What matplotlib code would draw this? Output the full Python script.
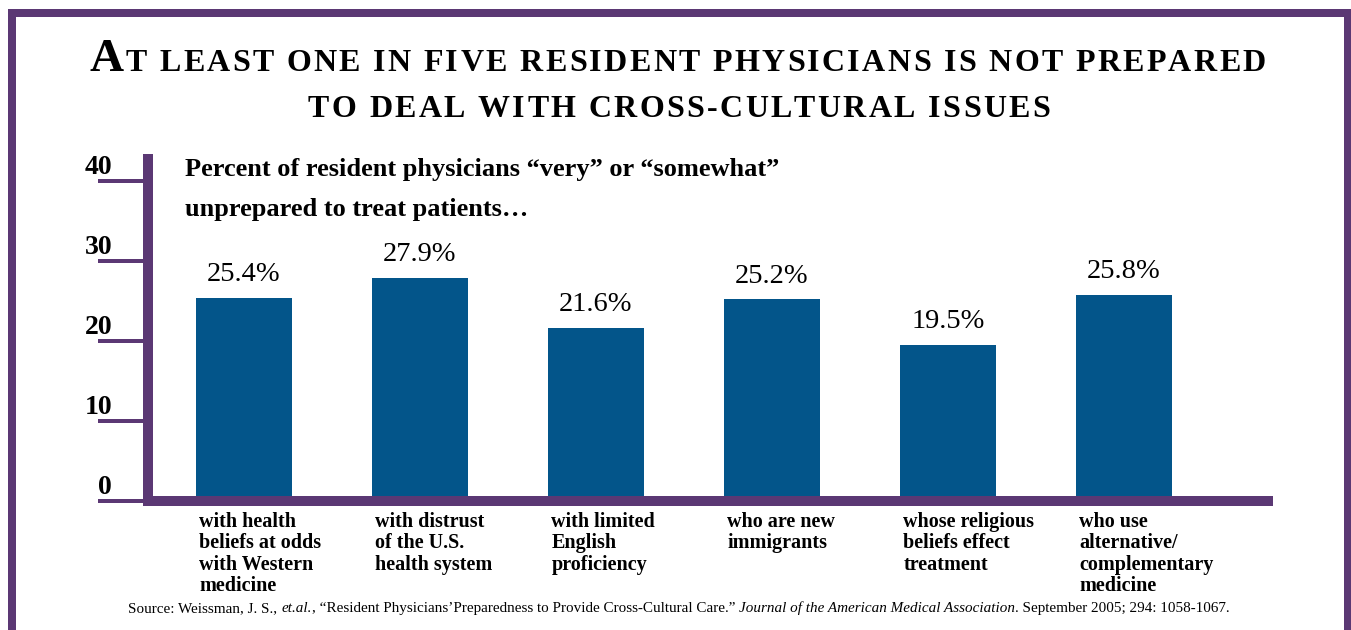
import matplotlib
matplotlib.use('Agg')
import matplotlib.pyplot as plt
from matplotlib.lines import Line2D

# ---------------- data ----------------
categories = [
    "with health\nbeliefs at odds\nwith Western\nmedicine",
    "with distrust\nof the U.S.\nhealth system",
    "with limited\nEnglish\nproficiency",
    "who are new\nimmigrants",
    "whose religious\nbeliefs effect\ntreatment",
    "who use\nalternative/\ncomplementary\nmedicine",
]
values = [25.4, 27.9, 21.6, 25.2, 19.5, 25.8]
value_labels = ["25.4%", "27.9%", "21.6%", "25.2%", "19.5%", "25.8%"]
yticks = [0, 10, 20, 30, 40]
ytick_labels = ["0", "10", "20", "30", "40"]

title_big = "A"
title_rest1 = "T LEAST ONE IN FIVE RESIDENT PHYSICIANS IS NOT PREPARED"
title_line2 = "TO DEAL WITH CROSS-CULTURAL ISSUES"
subtitle_lines = ["Percent of resident physicians \u201cvery\u201d or \u201csomewhat\u201d",
                  "unprepared to treat patients\u2026"]
source_pieces = [
    ("Source: Weissman, J. S.,", "normal", True),
    ("et.al.", "italic", False),
    (", \u201cResident Physicians\u2019Preparedness to Provide Cross-Cultural Care.\u201d", "normal", True),
    ("Journal of the American Medical Association", "italic", False),
    (". September 2005; 294: 1058-1067.", "normal", False),
]

# ---------------- style ----------------
PURPLE = "#5B3874"
BAR = "#03558A"
SERIF = ["Liberation Serif", "DejaVu Serif"]
plt.rcParams['font.family'] = SERIF

W, H = 1351, 630
fig = plt.figure(figsize=(W / 100, H / 100), dpi=100)

# axes: x from 148px to 1273px, y=0 at 501px, y=40 at 181px
ax = fig.add_axes([148 / W, (H - 501) / H, (1273 - 148) / W, 320 / H])
ax.set_xlim(-0.545, 5.847)
ax.set_ylim(0, 40)
ax.axis('off')

xpos = list(range(len(values)))
bw = 96 / 176
ax.bar(xpos, values, width=bw, color=BAR, zorder=2)

# value labels
for x, v, lab in zip(xpos, values, value_labels):
    ax.text(x, v + 2.1, lab, ha='center', va='baseline', fontsize=20.5,
            color='black')

# category labels
for x, lab in zip(xpos, categories):
    ax.text(x - bw / 2 + 0.02, -1.35, lab, ha='left', va='top', fontsize=14.5,
            fontweight='bold', linespacing=1.1, color='black')

# axes lines (custom purple)
yx = ax.get_yaxis_transform()
pt = 72 / 100
ax.add_line(Line2D([0, 0], [-0.62, 43.4], transform=yx, color=PURPLE,
                   lw=10 * pt, solid_capstyle='butt', clip_on=False, zorder=3))
ax.add_line(Line2D([-0.0044, 1.0], [0, 0], transform=yx, color=PURPLE,
                   lw=10 * pt, solid_capstyle='butt', clip_on=False, zorder=3))
for t, lab in zip(yticks, ytick_labels):
    ax.add_line(Line2D([-0.0444, -0.0044], [t, t], transform=yx, color=PURPLE,
                       lw=4 * pt, solid_capstyle='butt', clip_on=False, zorder=3))
    ax.text(-0.032, t + 0.9, lab, transform=yx, ha='right', va='baseline',
            fontsize=20, fontweight='bold', color='black')

# subtitle
for line, base in zip(subtitle_lines, [176, 216]):
    fig.text(185 / W, 1 - base / H, line, ha='left', va='baseline',
             fontsize=19, fontweight='bold', color='black')

# frame
fig.add_artist(Line2D([12 / W, 12 / W], [0, 1 - 9 / H], color=PURPLE,
                      lw=8 * pt, solid_capstyle='butt'))
fig.add_artist(Line2D([8 / W, 1351 / W], [1 - 13 / H, 1 - 13 / H], color=PURPLE,
                      lw=8 * pt, solid_capstyle='butt'))
fig.add_artist(Line2D([1348 / W, 1348 / W], [0, 1 - 9 / H], color=PURPLE,
                      lw=8 * pt, solid_capstyle='butt'))

renderer = fig.canvas.get_renderer()


def text_width(s, **kw):
    t = fig.text(0, 0, s, **kw)
    w = t.get_window_extent(renderer).width
    t.remove()
    return w


def rich_line(pieces, cx, base_y, target=None):
    # pieces: (text, kwargs, gap_after); optional target width via tracking
    arts, widths = [], []
    for s, kw, gap in pieces:
        if s == " ":
            arts.append(None)
            widths.append(text_width("a a", **kw) - text_width("aa", **kw))
            continue
        t = fig.text(0, 1 - base_y / H, s, ha='left', va='baseline', **kw)
        w = t.get_window_extent(renderer).width
        if gap:
            w += text_width("a a", **kw) - text_width("aa", **kw)
        arts.append(t)
        widths.append(w)
    track = 0.0
    if target is not None and len(widths) > 1:
        track = (target - sum(widths)) / (len(widths) - 1)
    total = sum(widths) + track * (len(widths) - 1)
    x = cx - total / 2
    for t, w in zip(arts, widths):
        if t is not None:
            t.set_x(x / W)
        x += w + track


big = dict(fontsize=34, fontweight='bold')
small = dict(fontsize=23, fontweight='bold')
rich_line([(title_big, big, False)] + [(c, small, False) for c in title_rest1],
          677.5, 71, target=1177)
rich_line([(c, small, False) for c in title_line2], 679, 117, target=742)

# source
rich_line([(s, dict(fontsize=10.9, style=st), g) for s, st, g in source_pieces],
          679, 612)

fig.savefig("out.png", dpi=100)
